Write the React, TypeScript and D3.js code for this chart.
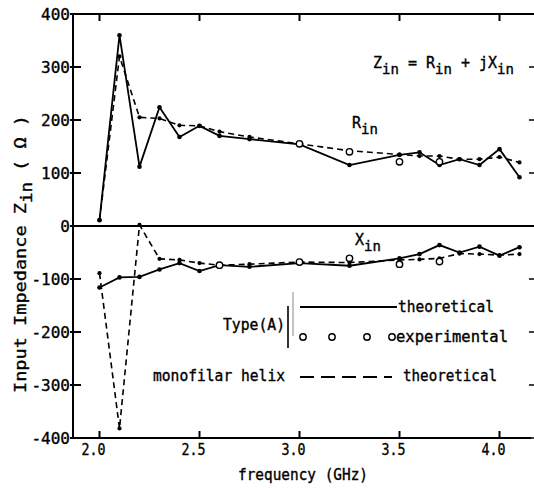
import React from "react";
import * as d3 from "d3";

const freqR = [2.0, 2.1, 2.2, 2.3, 2.4, 2.5, 2.6, 2.75, 3.0, 3.25, 3.5, 3.6, 3.7, 3.8, 3.9, 4.0, 4.1];
const rinTheory = [11, 360, 112, 224, 168, 189, 170, 164, 154, 115, 134, 139, 115, 126, 115, 145, 92];
const rinHelix = [11, 320, 205, 203, 190, 189, 178, 168, 155, 142, 135, 132, 132, 126, 126, 130, 120];
const xinTheory = [-116, -97, -96, -82, -70, -85, -74, -77, -70, -75, -61, -53, -36, -50, -39, -56, -40];
const xinHelix = [-89, -382, 2, -62, -64, -70, -74, -72, -68, -69, -64, -63, -61, -52, -53, -55, -53];

const freqExpR = [3.0, 3.25, 3.5, 3.7];
const rinExp = [155, 140, 121, 121];
const freqExpX = [2.6, 3.0, 3.25, 3.5, 3.7];
const xinExp = [-74, -68, -61, -72, -67];

const xTicks = [2.0, 2.5, 3.0, 3.5, 4.0];
const xTickLabels = ["2.0", "2.5", "3.0", "3.5", "4.0"];
const yTicks = [400, 300, 200, 100, 0, -100, -200, -300, -400];

const FONT = "'DejaVu Sans Mono', monospace";

export default function App() {
  const x = d3.scaleLinear().domain([2, 4]).range([99.5, 499.5]);
  const y = d3.scaleLinear().domain([-400, 400]).range([438, 14]);
  const left = x(1.8675);
  const right = 534;
  const top = y(400);
  const bottom = y(-400);

  const line = d3
    .line<[number, number]>()
    .x((d) => x(d[0]))
    .y((d) => y(d[1]));

  const series = (vals: number[]) => freqR.map((f, i) => [f, vals[i]] as [number, number]);

  const solid = [rinTheory, xinTheory];
  const dashed = [rinHelix, xinHelix];

  const textStyle = { stroke: "#000", strokeWidth: 0.35 };

  return (
    <svg
      width={534}
      height={488}
      style={{ position: "absolute", left: 0, top: 0, background: "#fff" }}
      fontFamily={FONT}
    >
      <rect width={534} height={488} fill="#fff" />
      {/* frame */}
      <line x1={left} x2={left} y1={top} y2={bottom} stroke="#000" strokeWidth={2} />
      <line x1={left} x2={right} y1={top} y2={top} stroke="#000" strokeWidth={2} />
      <line x1={left} x2={531} y1={bottom} y2={bottom} stroke="#000" strokeWidth={2} />
      <line x1={left} x2={right} y1={y(0)} y2={y(0)} stroke="#000" strokeWidth={2} />

      {/* x ticks */}
      {xTicks.map((t, i) => (
        <g key={"xt" + i}>
          <line x1={x(t)} x2={x(t)} y1={top} y2={top + 7} stroke="#000" strokeWidth={2} />
          <line x1={x(t)} x2={x(t)} y1={bottom} y2={bottom - 7} stroke="#000" strokeWidth={2} />
          <text
            x={x(t) - 6}
            y={455}
            fontSize={16}
            textAnchor="middle"
            textLength={24}
            lengthAdjust="spacingAndGlyphs"
            style={textStyle}
          >
            {xTickLabels[i]}
          </text>
        </g>
      ))}

      {/* y ticks */}
      {yTicks.map((t) => (
        <g key={"yt" + t}>
          <line x1={left - 3} x2={left + 8} y1={y(t)} y2={y(t)} stroke="#000" strokeWidth={2} />
          <line x1={right - 5} x2={right} y1={y(t)} y2={y(t)} stroke="#000" strokeWidth={1.5} />
          <text x={70} y={y(t)} dy="0.36em" fontSize={16} textAnchor="end" style={textStyle}>
            {String(t)}
          </text>
        </g>
      ))}

      {/* solid theoretical lines */}
      {solid.map((vals, k) => (
        <g key={"s" + k}>
          <path d={line(series(vals)) || ""} fill="none" stroke="#000" strokeWidth={1.8} />
          {series(vals).map((d, i) => (
            <circle key={i} cx={x(d[0])} cy={y(d[1])} r={2.3} fill="#000" />
          ))}
        </g>
      ))}

      {/* dashed helix lines */}
      {dashed.map((vals, k) => (
        <g key={"d" + k}>
          <path
            d={line(series(vals)) || ""}
            fill="none"
            stroke="#000"
            strokeWidth={1.6}
            strokeDasharray="6,4"
          />
          {series(vals).map((d, i) => (
            <circle key={i} cx={x(d[0])} cy={y(d[1])} r={2.1} fill="#000" />
          ))}
        </g>
      ))}

      {/* experimental */}
      {freqExpR.map((f, i) => (
        <circle key={"er" + i} cx={x(f)} cy={y(rinExp[i])} r={3.2} fill="#fff" stroke="#000" strokeWidth={1.4} />
      ))}
      {freqExpX.map((f, i) => (
        <circle key={"ex" + i} cx={x(f)} cy={y(xinExp[i])} r={3.2} fill="#fff" stroke="#000" strokeWidth={1.4} />
      ))}

      {/* annotations */}
      <text x={373} y={68} fontSize={15} style={textStyle}>
        Z<tspan dy={6} fontSize={14}>in</tspan>
        <tspan dy={-6}> = R</tspan>
        <tspan dy={6} fontSize={14}>in</tspan>
        <tspan dy={-6}> + jX</tspan>
        <tspan dy={6} fontSize={14}>in</tspan>
      </text>
      <text x={352} y={128} fontSize={15} style={textStyle}>
        R<tspan dy={6} fontSize={14}>in</tspan>
      </text>
      <text x={355} y={245} fontSize={15} style={textStyle}>
        X<tspan dy={6} fontSize={14}>in</tspan>
      </text>

      {/* legend */}
      <text x={223} y={330} fontSize={15} textLength={62} lengthAdjust="spacingAndGlyphs" style={textStyle}>
        Type(A)
      </text>
      <line x1={288} x2={288} y1={306} y2={348} stroke="#000" strokeWidth={1.6} />
      <line x1={293} x2={293} y1={292} y2={336} stroke="#888" strokeWidth={1} />
      <line x1={300} x2={397} y1={307} y2={307} stroke="#000" strokeWidth={1.8} />
      <text x={398} y={312} fontSize={15} textLength={96} lengthAdjust="spacingAndGlyphs" style={textStyle}>
        theoretical
      </text>
      {[303, 332, 367, 392].map((cx) => (
        <circle key={"lc" + cx} cx={cx} cy={337} r={3.2} fill="#fff" stroke="#000" strokeWidth={1.4} />
      ))}
      <text x={396} y={342} fontSize={15} textLength={112} lengthAdjust="spacingAndGlyphs" style={textStyle}>
        experimental
      </text>
      <text x={153} y={381} fontSize={15} textLength={132} lengthAdjust="spacingAndGlyphs" style={textStyle}>
        monofilar helix
      </text>
      <line x1={300} x2={392} y1={377} y2={377} stroke="#000" strokeWidth={1.8} strokeDasharray="14,7" />
      <text x={403} y={381} fontSize={15} textLength={94} lengthAdjust="spacingAndGlyphs" style={textStyle}>
        theoretical
      </text>

      {/* axis titles */}
      <text
        x={303}
        y={480}
        fontSize={15}
        textAnchor="middle"
        textLength={130}
        lengthAdjust="spacingAndGlyphs"
        style={textStyle}
      >
        frequency (GHz)
      </text>
      <text
        transform="translate(26,254) rotate(-90)"
        fontSize={16}
        textAnchor="middle"
        textLength={278}
        lengthAdjust="spacingAndGlyphs"
        style={textStyle}
      >
        Input Impedance Z<tspan dy={6} fontSize={15}>in</tspan>
        <tspan dy={-6}>{"  ( Ω )"}</tspan>
      </text>
    </svg>
  );
}
